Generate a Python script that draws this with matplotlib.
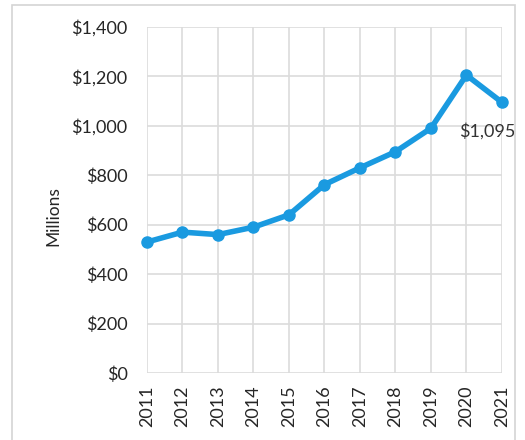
import matplotlib.pyplot as plt
from matplotlib.patches import Rectangle
from matplotlib.ticker import FuncFormatter

# Values (millions of dollars)
years = [2011, 2012, 2013, 2014, 2015, 2016, 2017, 2018, 2019, 2020, 2021]
values = [530, 570, 560, 590, 640, 762, 830, 895, 990, 1205, 1095]
y_ticks = [0, 200, 400, 600, 800, 1000, 1200, 1400]

plt.rcParams['font.family'] = ['Lato', 'DejaVu Sans']

fig = plt.figure(figsize=(5.25, 4.4), dpi=100)
ax = fig.add_axes([0.28, 0.152, 0.676, 0.787])

# Outer chart frame
fig.patches.append(Rectangle((12 / 525, -0.01), 503 / 525, 1 - 5 / 440 + 0.01,
                             transform=fig.transFigure, fill=False,
                             edgecolor='#d4d4d4', linewidth=1.2))

line_color = '#1a9ae0'
ax.plot(years, values, color=line_color, linewidth=4, marker='o',
        markersize=8, solid_joinstyle='round', clip_on=False, zorder=3)

# Data label on the last point
ax.annotate('$1,095', (years[-1], values[-1]), xytext=(-15, -29),
            textcoords='offset pixels', ha='center', va='center',
            fontsize=13, color='#333333')

ax.set_xlim(years[0], years[-1])
ax.set_ylim(0, 1400)
ax.set_xticks(years)
ax.set_xticklabels([str(y) for y in years], rotation=90)
ax.set_yticks(y_ticks)
ax.yaxis.set_major_formatter(FuncFormatter(lambda v, p: '${:,.0f}'.format(v)))

ax.grid(True, color='#dcdcdc', linewidth=1.2)
ax.set_axisbelow(True)
for s in ax.spines.values():
    s.set_visible(False)
ax.tick_params(axis='y', length=0, labelsize=13, colors='#262626', pad=14)
ax.tick_params(axis='x', length=0, labelsize=13, colors='#262626', pad=9)

ax.set_ylabel('Millions', fontsize=12.5, color='#262626')
ax.yaxis.set_label_coords(-0.24, 0.455)

fig.savefig('out.png', dpi=100)
